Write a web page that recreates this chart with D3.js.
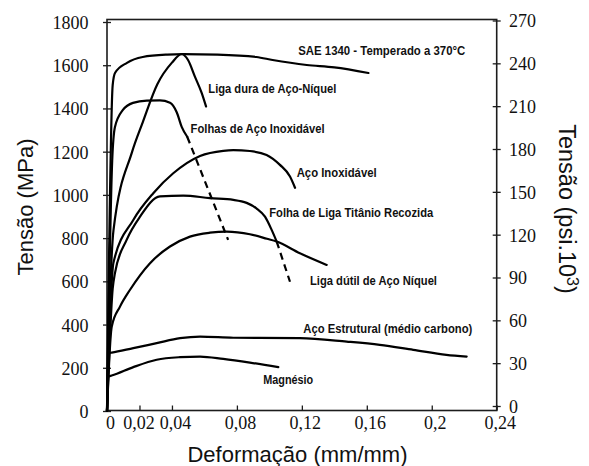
<!DOCTYPE html>
<html>
<head>
<meta charset="utf-8">
<script src="https://cdn.jsdelivr.net/npm/d3@7"></script>
<style>
  html, body { margin: 0; padding: 0; background: #fff; }
  svg { display: block; }
</style>
</head>
<body>
<svg id="chart" width="589" height="466"></svg>
<script>
// Axis ticks
const strainTicks = [0, 0.02, 0.04, 0.08, 0.12, 0.16, 0.2, 0.24];
const strainTickLabels = ["0", "0,02", "0,04", "0,08", "0,12", "0,16", "0,2", "0,24"];
const mpaTicks = [0, 200, 400, 600, 800, 1000, 1200, 1400, 1600, 1800];
const psiTicks = [0, 30, 60, 90, 120, 150, 180, 210, 240, 270];

// Stress–strain curves: [strain (mm/mm), stress (MPa)]
const sae1340 = [[0,0],[0.0035,1508],[0.005,1565],[0.0123,1611],[0.022,1638],[0.037,1649],[0.047,1651],[0.068,1649],[0.092,1638],[0.102,1624],[0.123,1601],[0.14,1590],[0.161,1564]];
const ligaDura = [[0,0],[0.0025,655],[0.004,837],[0.0154,1198],[0.022,1336],[0.031,1512],[0.040,1612],[0.046,1652],[0.0499,1624],[0.0542,1546],[0.0583,1472],[0.061,1409]];
const folhasInox = [[0,0],[0.0032,1158],[0.0049,1314],[0.0098,1393],[0.016,1426],[0.0245,1436],[0.0326,1437],[0.0388,1426],[0.043,1381],[0.046,1315],[0.0494,1269]];
const folhasInoxRuptura = [[0.0494,1269],[0.0746,792]];
const acoInox = [[0,0],[0.003,607],[0.0039,684],[0.0162,884],[0.0285,1008],[0.0408,1100],[0.0573,1180],[0.0716,1204],[0.0778,1207],[0.088,1203],[0.0983,1185],[0.1065,1139],[0.1127,1085],[0.1158,1033]];
const titanio = [[0,0],[0.0035,566],[0.0049,638],[0.0121,792],[0.0203,899],[0.0326,993],[0.047,997],[0.0634,985],[0.0778,977],[0.086,963],[0.092,938],[0.0973,899],[0.1014,838],[0.1045,784]];
const titanioRuptura = [[0.1045,784],[0.1086,691],[0.1127,598]];
const ligaDutil = [[0,0],[0.0025,366],[0.0029,390],[0.008,483],[0.0142,561],[0.0265,684],[0.0388,761],[0.0511,807],[0.0634,825],[0.0737,830],[0.088,818],[0.0985,797],[0.1045,784],[0.1188,730],[0.1353,676]];
const acoEstrutural = [[0,0],[0.001,268],[0.0029,270],[0.0162,291],[0.0306,314],[0.045,337],[0.0573,344],[0.0778,339],[0.1188,337],[0.1476,321],[0.168,306],[0.1886,283],[0.209,260],[0.2215,252]];
const magnesio = [[0,0],[0.001,160],[0.0029,164],[0.0162,203],[0.0306,237],[0.045,249],[0.0573,252],[0.0716,241],[0.088,224],[0.1055,203]];

const solidCurves = [sae1340, ligaDura, folhasInox, acoInox, titanio, ligaDutil, acoEstrutural, magnesio];
const dashedCurves = [folhasInoxRuptura, titanioRuptura];

// Curve names, anchored at [strain, stress]
const curveNames = ["SAE 1340 - Temperado a 370°C", "Liga dura de Aço-Níquel", "Folhas de Aço Inoxidável",
  "Aço Inoxidável", "Folha de Liga Titânio Recozida", "Liga dútil de Aço Níquel",
  "Aço Estrutural (médio carbono)", "Magnésio"];
const nameAnchors = [[0.1178,1649],[0.0624,1471],[0.0515,1286],[0.1168,1085],[0.0999,900],[0.125,583],[0.1209,361],[0.0962,125]];
const nameWidths = [167, 128, 134, 80, 164, 127, 169, 50];

const svg = d3.select("#chart");
svg.append("rect").attr("width", 589).attr("height", 466).attr("fill", "#fff");

const x = d3.scaleLinear().domain([0, 0.24]).range([107, 496.7]);
const yMPa = d3.scaleLinear().domain([0, 1800]).range([411, 22]);
const yPsi = d3.scaleLinear().domain([0, 270]).range([406, 20.5]);

const plotTop = 19.5, plotBottom = 410.5;
const axisColor = "#1c1c1c";

const serif = "'Liberation Serif', 'Times New Roman', 'DejaVu Serif', serif";
const sans = "'Liberation Sans', Arial, sans-serif";

// Frame
svg.append("rect")
  .attr("x", x(0)).attr("y", plotTop)
  .attr("width", x(0.24) - x(0)).attr("height", plotBottom - plotTop)
  .attr("fill", "none").attr("stroke", axisColor).attr("stroke-width", 1.6);

function styleTicks(g) {
  g.attr("font-family", null).attr("font-size", null);
  g.selectAll(".tick text")
    .style("font-family", serif).style("font-size", "18px").attr("fill", "#111");
}

// Left axis (MPa)
const gLeft = svg.append("g").attr("transform", `translate(${x(0)},0)`)
  .call(d3.axisLeft(yMPa).tickValues(mpaTicks).tickFormat(d3.format("d"))
    .tickSizeInner(4).tickSizeOuter(0).tickPadding(14.5));
gLeft.select(".domain").remove();
gLeft.selectAll(".tick line").attr("x1", 4).attr("stroke", axisColor).attr("stroke-width", 1.3);
styleTicks(gLeft);
gLeft.selectAll(".tick text").attr("dy", "0.36em");

// Right axis (psi x 10^3)
const gRight = svg.append("g").attr("transform", `translate(${x(0.24)},0)`)
  .call(d3.axisRight(yPsi).tickValues(psiTicks).tickFormat(d3.format("d"))
    .tickSizeInner(4).tickSizeOuter(0).tickPadding(8.3));
gRight.select(".domain").remove();
gRight.selectAll(".tick line").attr("x1", -4).attr("stroke", axisColor).attr("stroke-width", 1.3);
styleTicks(gRight);
gRight.selectAll(".tick text").attr("dy", "0.36em");

// Bottom axis (strain)
const gBottom = svg.append("g").attr("transform", `translate(0,${plotBottom})`)
  .call(d3.axisBottom(x).tickValues(strainTicks).tickSizeInner(-5).tickSizeOuter(0)
    .tickFormat((d, i) => strainTickLabels[i]));
gBottom.select(".domain").remove();
gBottom.selectAll(".tick line").attr("stroke", axisColor).attr("stroke-width", 1.3);
styleTicks(gBottom);
gBottom.selectAll(".tick text").attr("y", 18.5).attr("dy", null)
  .attr("dx", d => (d === 0.02 ? -1 : 3));

// Curves
const line = d3.line().x(d => x(d[0])).y(d => yMPa(d[1])).curve(d3.curveMonotoneX);
const straight = d3.line().x(d => x(d[0])).y(d => yMPa(d[1]));

svg.append("g").selectAll("path").data(solidCurves).join("path")
  .attr("d", line).attr("fill", "none").attr("stroke", "#000")
  .attr("stroke-width", 2.2).attr("stroke-linejoin", "round").attr("stroke-linecap", "round");

svg.append("g").selectAll("path").data(dashedCurves).join("path")
  .attr("d", straight).attr("fill", "none").attr("stroke", "#000")
  .attr("stroke-width", 2.2).attr("stroke-dasharray", "7,5");

// Curve names
svg.append("g").selectAll("text").data(curveNames).join("text")
  .attr("x", (d, i) => x(nameAnchors[i][0]))
  .attr("y", (d, i) => yMPa(nameAnchors[i][1]))
  .attr("textLength", (d, i) => nameWidths[i])
  .attr("lengthAdjust", "spacingAndGlyphs")
  .style("font-family", "'Liberation Sans Narrow', 'Arial Narrow', 'Liberation Sans', Arial, sans-serif")
  .style("font-weight", "bold").style("font-size", "13.5px").attr("fill", "#111")
  .text(d => d);

// Axis titles
svg.append("text")
  .attr("transform", "translate(33,207) rotate(-90)")
  .attr("text-anchor", "middle")
  .style("font-family", sans).style("font-size", "22px").attr("fill", "#111")
  .text("Tensão (MPa)");

const rt = svg.append("text")
  .attr("transform", "translate(559,209) rotate(90)")
  .attr("text-anchor", "middle")
  .style("font-family", sans).style("font-size", "23.5px").attr("fill", "#111");
rt.append("tspan").text("Tensão (psi.10");
rt.append("tspan").style("font-size", "16px").attr("dy", -8).text("3");
rt.append("tspan").attr("dy", 8).text(")");

svg.append("text")
  .attr("x", 297.5).attr("y", 462)
  .attr("text-anchor", "middle")
  .style("font-family", sans).style("font-size", "22px").attr("fill", "#111")
  .text("Deformação (mm/mm)");
</script>
</body>
</html>
